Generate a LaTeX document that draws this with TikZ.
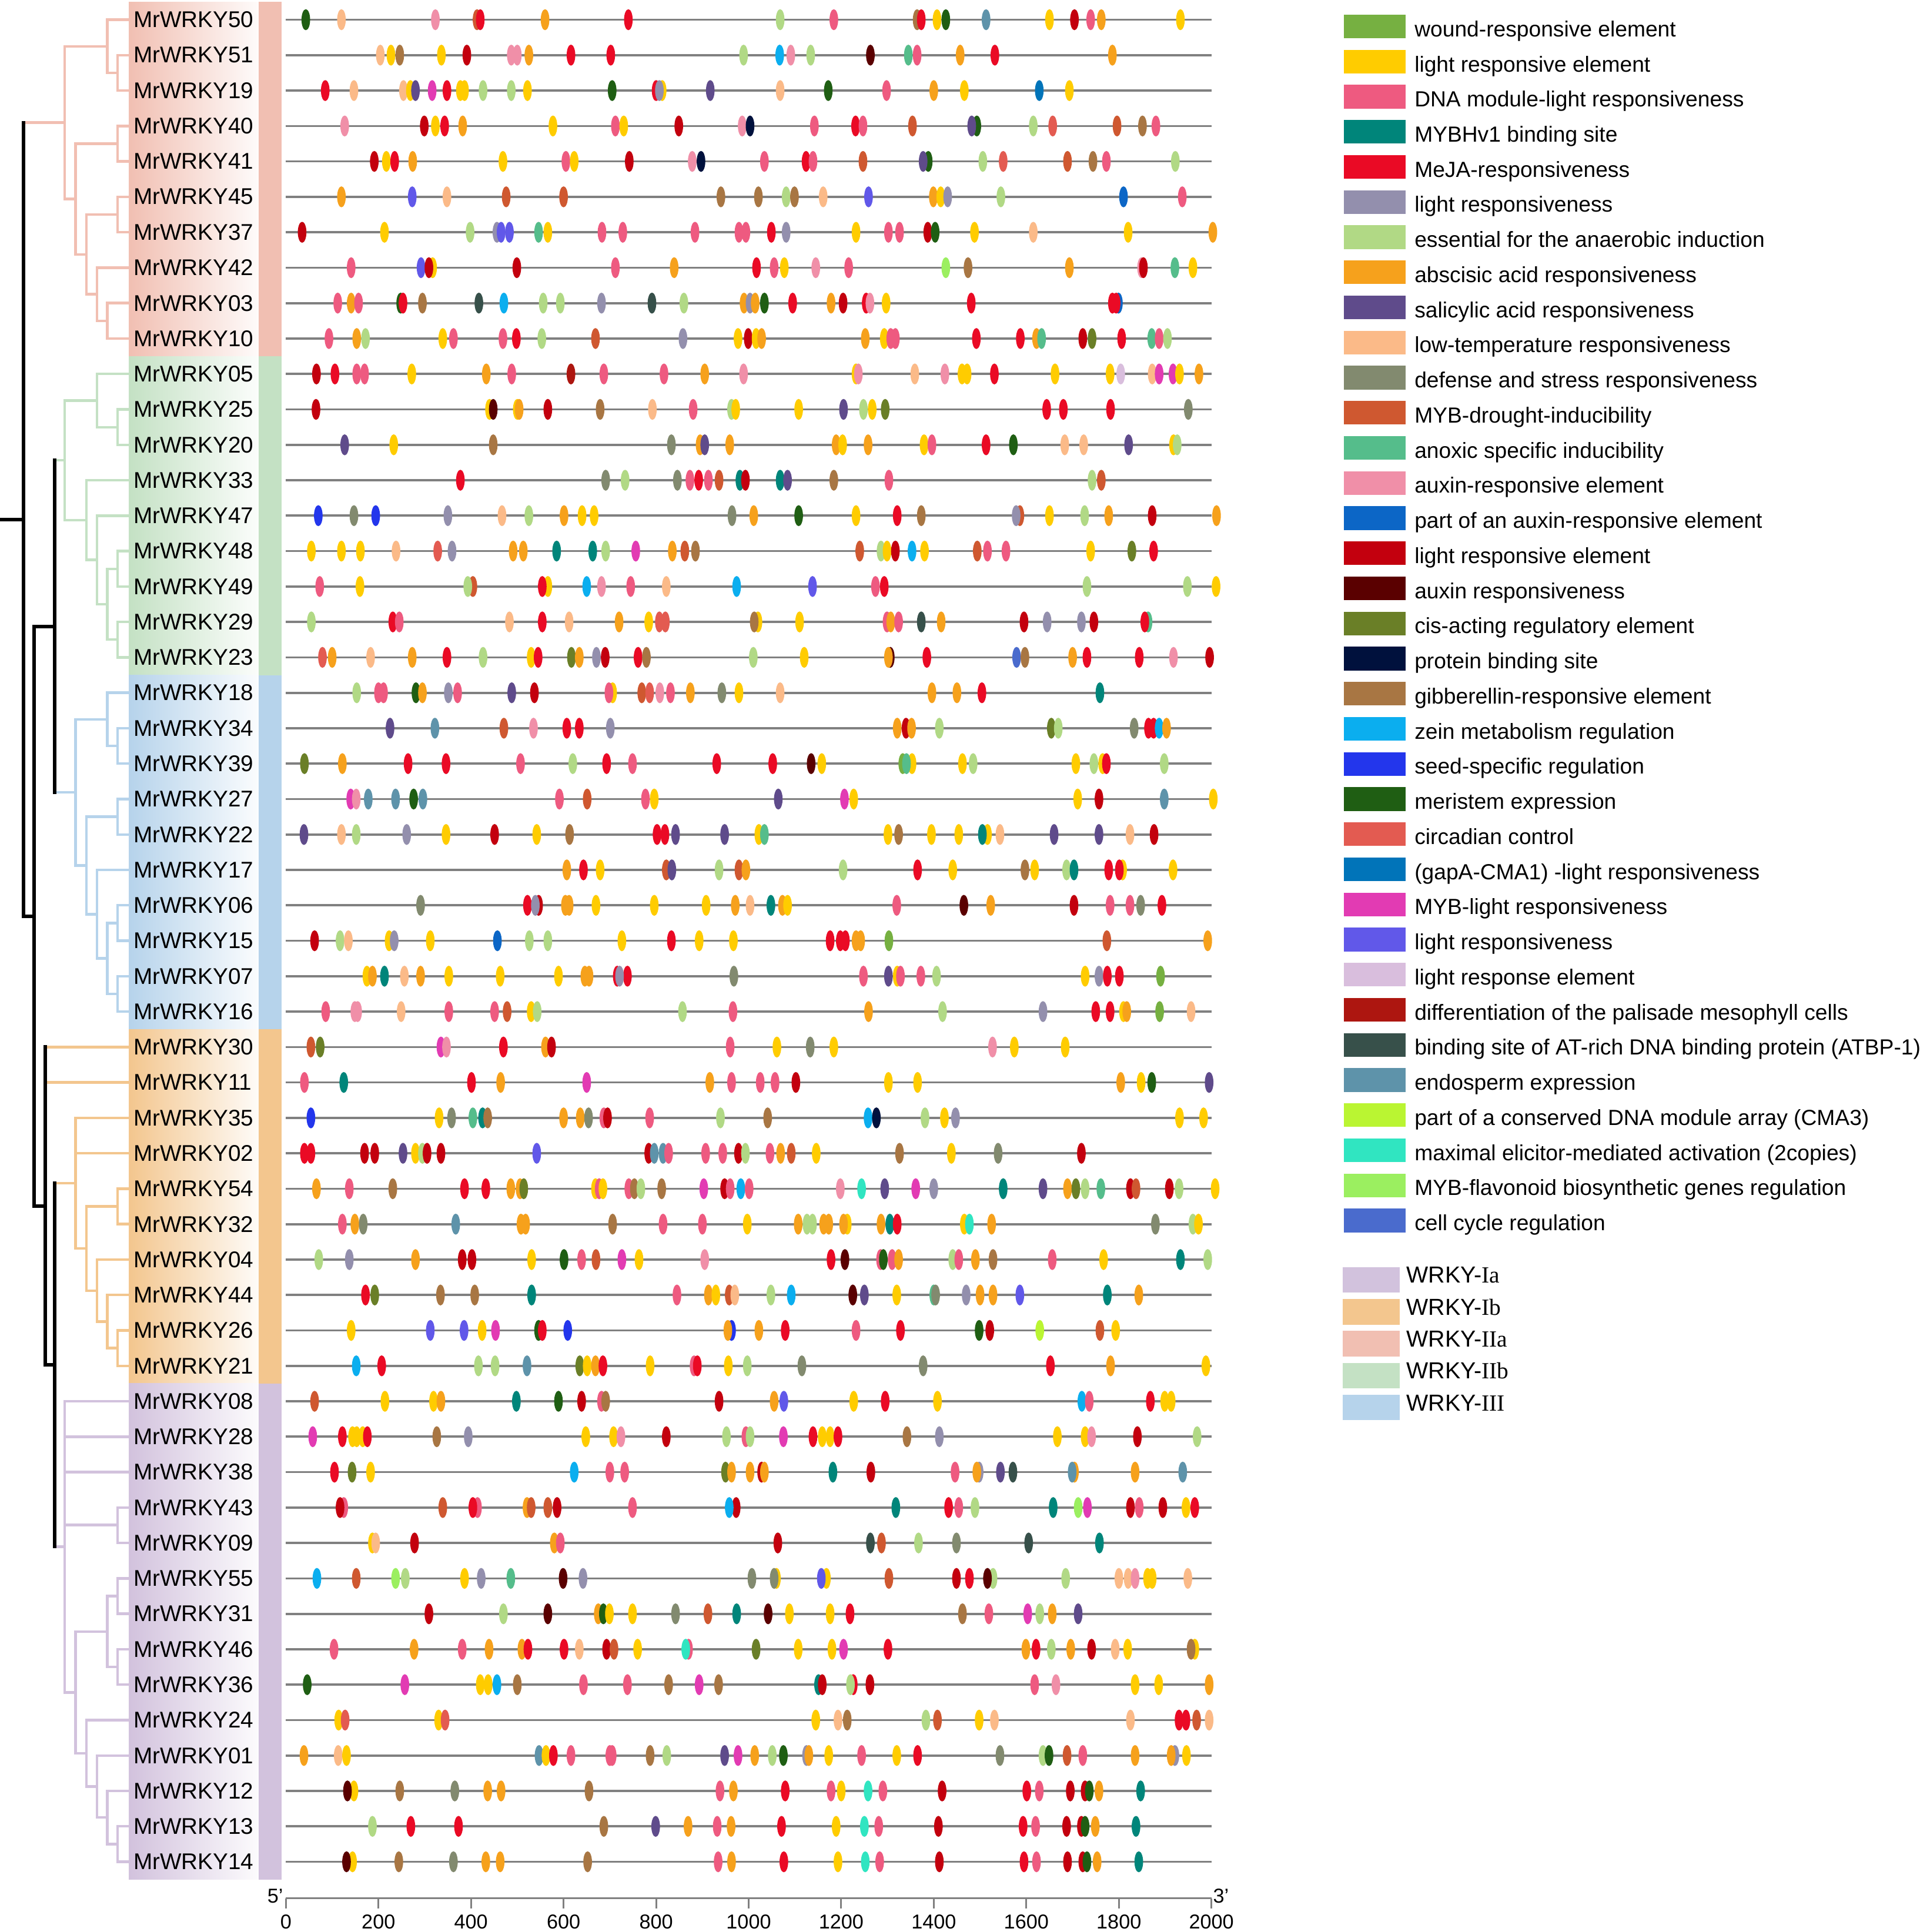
\documentclass[tikz,border=0pt]{standalone}
\usepackage{fontspec}
\setmainfont{Liberation Sans}
\newfontfamily\romanfont{Liberation Serif}
% motif colours
\definecolor{cW}{HTML}{76B041}
\definecolor{cY}{HTML}{FFCC00}
\definecolor{cP}{HTML}{EE5A80}
\definecolor{cT}{HTML}{00857A}
\definecolor{cR}{HTML}{EA0A25}
\definecolor{cG}{HTML}{938FAD}
\definecolor{cL}{HTML}{B1D985}
\definecolor{cO}{HTML}{F6A11C}
\definecolor{cS}{HTML}{5F4B8B}
\definecolor{cK}{HTML}{FBBA88}
\definecolor{cD}{HTML}{828A6F}
\definecolor{cU}{HTML}{CF5830}
\definecolor{cA}{HTML}{55BD8B}
\definecolor{cN}{HTML}{F08FA8}
\definecolor{cB}{HTML}{0C66C6}
\definecolor{cV}{HTML}{C3000E}
\definecolor{cM}{HTML}{5A0000}
\definecolor{cC}{HTML}{6A7F27}
\definecolor{cZ}{HTML}{00113D}
\definecolor{cH}{HTML}{A87643}
\definecolor{cE}{HTML}{0BAEEF}
\definecolor{cQ}{HTML}{2336EC}
\definecolor{cX}{HTML}{1F5E13}
\definecolor{cF}{HTML}{E35B51}
\definecolor{cI}{HTML}{0174B9}
\definecolor{cJ}{HTML}{E23BB3}
\definecolor{cpw}{HTML}{6158E9}
\definecolor{cli}{HTML}{D9BEDD}
\definecolor{cpa}{HTML}{AD1610}
\definecolor{cat}{HTML}{37504A}
\definecolor{cen}{HTML}{5E93AA}
\definecolor{ccm}{HTML}{BAF532}
\definecolor{ctq}{HTML}{30E5C1}
\definecolor{cfl}{HTML}{9BEF60}
\definecolor{ccc}{HTML}{4A6BCD}
% group colours
\definecolor{wIa}{HTML}{D2C2DD}
\definecolor{wIb}{HTML}{F3C68E}
\definecolor{wIIa}{HTML}{F1BFB2}
\definecolor{wIIb}{HTML}{C4E1C4}
\definecolor{wIII}{HTML}{B6D3EB}
% one row of motifs: row index, list of position/colour
\newcommand{\motifs}[2]{\foreach \p/\k in {#2} \fill[fill=c\k] ({232+0.3755*\p},{16+28.75*#1}) ellipse (3.5 and 8.5);}
\begin{document}
\begin{tikzpicture}[x=0.02cm, y=-0.02cm,
  gline/.style={draw=gray, line width=1pt},
  glabel/.style={anchor=west, inner sep=0pt, font=\fontsize{10.5}{12}\selectfont},
  tblk/.style={draw=black, line width=1.6pt, line cap=rect},
  tIIa/.style={draw=wIIa, line width=1.2pt},
  tIIb/.style={draw=wIIb, line width=1.2pt},
  tIII/.style={draw=wIII, line width=1.2pt},
  tIb/.style={draw=wIb, line width=1.2pt},
  tIa/.style={draw=wIa, line width=1.2pt},
  legtext/.style={anchor=base west, inner sep=0pt, font=\fontsize{10.1}{12}\selectfont},
  grptext/.style={anchor=base west, inner sep=0pt, font=\fontsize{10.7}{12}\selectfont},
  axlabel/.style={inner sep=0pt, font=\fontsize{9.3}{11}\selectfont},
  axline/.style={draw=gray, line width=1pt},
  axtick/.style={draw=gray, line width=0.8pt}]
\useasboundingbox (0,0) rectangle (1566,1568);

% genes: leaf points, labels, promoter lines
\foreach \i/\g in {0/50,1/51,2/19,3/40,4/41,5/45,6/37,7/42,8/03,9/10,10/05,11/25,12/20,13/33,14/47,15/48,16/49,17/29,18/23,19/18,20/34,21/39,22/27,23/22,24/17,25/06,26/15,27/07,28/16,29/30,30/11,31/35,32/02,33/54,34/32,35/04,36/44,37/26,38/21,39/08,40/28,41/38,42/43,43/09,44/55,45/31,46/46,47/36,48/24,49/01,50/12,51/13,52/14} {
  \coordinate (r\g) at (104.5,{16+28.75*\i});
  \coordinate (s\g) at (232,{16+28.75*\i});
  \coordinate (e\g) at (983,{16+28.75*\i});
}

% tree nodes
\coordinate (a1) at (95.4,59.125);
\coordinate (a2) at (87,37.56);
\coordinate (a3) at (95.4,116.625);
\coordinate (a4) at (95.4,174.125);
\coordinate (a5) at (87,260.375);
\coordinate (a6) at (78.7,238.81);
\coordinate (a7) at (70,206.47);
\coordinate (a8) at (61.2,161.55);
\coordinate (a9) at (52.5,99.55);
\coordinate (g1) at (95.4,346.875);
\coordinate (g2) at (78.7,325.19);
\coordinate (g3) at (95.4,461.625);
\coordinate (g4) at (95.4,519.125);
\coordinate (g5) at (87,490.375);
\coordinate (g6) at (78.7,454.44);
\coordinate (g7) at (70,422.09);
\coordinate (g8) at (52.5,373.64);
\coordinate (u1) at (95.4,605.375);
\coordinate (u2) at (87,583.81);
\coordinate (u3) at (95.4,662.875);
\coordinate (u4) at (95.4,749.125);
\coordinate (u5) at (95.4,806.625);
\coordinate (u6) at (87,777.875);
\coordinate (u7) at (78.7,741.94);
\coordinate (u8) at (70,702.41);
\coordinate (u9) at (61.2,643.11);
\coordinate (o1) at (95.4,979.125);
\coordinate (o2) at (95.4,1094.125);
\coordinate (o3) at (87,1072.56);
\coordinate (o4) at (78.7,1047.41);
\coordinate (o5) at (70,1013.27);
\coordinate (o6) at (61.2,960.26);
\coordinate (p1) at (95.4,1237.625);
\coordinate (p2) at (95.4,1295.375);
\coordinate (p3) at (95.4,1352.875);
\coordinate (p4) at (87,1324.125);
\coordinate (p5) at (95.4,1496.625);
\coordinate (p6) at (87,1475.06);
\coordinate (p7) at (78.7,1449.91);
\coordinate (p8) at (70,1422.95);
\coordinate (p9) at (61.2,1373.54);
\coordinate (p10) at (52.5,1255.27);
\coordinate (b1) at (19,421.56);
\coordinate (b2) at (27.8,743.57);
\coordinate (b3) at (44.5,508.38);
\coordinate (b4) at (36.6,978.76);
\coordinate (b5) at (44.5,1107.77);
\coordinate (root) at (1.6,421.56);

% tree branches
\draw[tIIa] (a1) |- (r51) (a1) |- (r19) (a2) |- (r50) (a2) |- (a1)
  (a3) |- (r40) (a3) |- (r41) (a4) |- (r45) (a4) |- (r37)
  (a5) |- (r03) (a5) |- (r10) (a6) |- (r42) (a6) |- (a5)
  (a7) |- (a4) (a7) |- (a6) (a8) |- (a3) (a8) |- (a7)
  (a9) |- (a2) (a9) |- (a8) (b1 |- a9) -- (a9);
\draw[tIIb] (g1) |- (r25) (g1) |- (r20) (g2) |- (r05) (g2) |- (g1)
  (g3) |- (r48) (g3) |- (r49) (g4) |- (r29) (g4) |- (r23)
  (g5) |- (g3) (g5) |- (g4) (g6) |- (r47) (g6) |- (g5)
  (g7) |- (r33) (g7) |- (g6) (g8) |- (g2) (g8) |- (g7) (b3 |- g8) -- (g8);
\draw[tIII] (u1) |- (r34) (u1) |- (r39) (u2) |- (r18) (u2) |- (u1)
  (u3) |- (r27) (u3) |- (r22) (u4) |- (r06) (u4) |- (r15)
  (u5) |- (r07) (u5) |- (r16) (u6) |- (u4) (u6) |- (u5)
  (u7) |- (r17) (u7) |- (u6) (u8) |- (u3) (u8) |- (u7)
  (u9) |- (u2) (u9) |- (u8) (b3 |- u9) -- (u9);
\draw[tIb] (o1) |- (r54) (o1) |- (r32) (o2) |- (r26) (o2) |- (r21)
  (o3) |- (r44) (o3) |- (o2) (o4) |- (r04) (o4) |- (o3)
  (o5) |- (o1) (o5) |- (o4) (o6) |- (r35) (o6) |- (r02) (o6) |- (o5)
  (b5 |- o6) -- (o6) (b4 |- r30) -- (r30) (b4 |- r11) -- (r11);
\draw[tIa] (p1) |- (r43) (p1) |- (r09) (p2) |- (r55) (p2) |- (r31)
  (p3) |- (r46) (p3) |- (r36) (p4) |- (p2) (p4) |- (p3)
  (p5) |- (r13) (p5) |- (r14) (p6) |- (r12) (p6) |- (p5)
  (p7) |- (r01) (p7) |- (p6) (p8) |- (r24) (p8) |- (p7)
  (p9) |- (p4) (p9) |- (p8)
  (p10) |- (r08) (p10) |- (r28) (p10) |- (r38) (p10) |- (p1) (p10) |- (p9)
  (b5 |- p10) -- (p10);
\draw[tblk] (root) -- (b1);
\draw[tblk] (b1 |- a9) -- (b1 |- b2) -- (b2);
\draw[tblk] (b2 |- b3) -- (b3) (b2 |- b3) -- (b2 |- b4) -- (b4);
\draw[tblk] (b3 |- g8) -- (b3 |- u9);
\draw[tblk] (b4 |- r30) -- (b4 |- b5) -- (b5);
\draw[tblk] (b5 |- o6) -- (b5 |- p10);

% group bands behind the labels
\foreach \a/\b/\k in {0/9/wIIa, 10/18/wIIb, 19/28/wIII, 29/38/wIb, 39/52/wIa} {
  \shade[left color=\k, right color=\k!6] (104.5,{1.625+28.75*\a}) rectangle (210,{30.375+28.75*\b});
  \fill[\k] (210,{1.625+28.75*\a}) rectangle (228.5,{30.375+28.75*\b});
}

% promoter lines and labels
\foreach \g in {50,51,19,40,41,45,37,42,03,10,05,25,20,33,47,48,49,29,23,18,34,39,27,22,17,06,15,07,16,30,11,35,02,54,32,04,44,26,21,08,28,38,43,09,55,31,46,36,24,01,12,13,14} {
  \draw[gline] (s\g) -- (e\g);
  \node[glabel] (n\g) at ([xshift=0.07cm]r\g) {MrWRKY\g};
}

% cis-elements
\motifs{0}{43/X,120/K,323/N,413/U,420/R,560/O,740/R,1068/L,1184/P,1364/H,1373/R,1407/Y,1426/X,1513/en,1650/Y,1704/V,1739/P,1762/O,1933/Y}
\motifs{1}{204/K,227/Y,246/H,336/Y,391/V,487/N,500/N,525/O,616/R,702/R,989/L,1067/E,1091/N,1134/L,1263/M,1345/A,1364/P,1457/O,1532/R,1786/O}
\motifs{2}{85/R,147/K,254/K,269/Y,280/S,316/J,348/R,377/Y,386/Y,426/L,487/L,522/Y,705/X,800/R,813/Y,807/G,917/S,1068/K,1172/X,1298/P,1400/O,1466/Y,1628/I,1693/Y}
\motifs{3}{127/N,299/V,323/Y,343/R,382/O,577/Y,712/P,730/Y,849/V,986/N,1003/Z,1142/P,1231/R,1247/P,1354/U,1493/X,1482/S,1615/L,1657/F,1796/U,1851/H,1880/P}
\motifs{4}{191/V,217/Y,235/R,274/O,469/Y,605/P,623/Y,742/V,878/N,897/Z,1034/P,1124/R,1139/P,1247/U,1388/X,1377/S,1506/L,1550/F,1689/U,1744/H,1773/P,1922/L}
\motifs{5}{120/O,273/pw,348/K,476/U,600/U,940/H,1021/H,1081/L,1099/H,1161/K,1259/pw,1399/O,1415/Y,1430/G,1545/L,1810/B,1937/P}
\motifs{6}{35/V,213/Y,398/L,456/G,465/pw,483/pw,546/A,566/Y,683/P,728/P,884/P,979/P,994/P,1049/R,1081/G,1232/Y,1302/P,1326/P,1387/V,1403/X,1488/Y,1615/K,1820/Y,2003/O}
\motifs{7}{141/P,292/pw,317/Y,309/V,499/V,712/P,839/O,1017/R,1055/P,1077/Y,1145/N,1216/P,1426/fl,1474/H,1693/O,1849/N,1853/V,1921/A,1960/Y}
\motifs{8}{112/P,141/O,157/P,248/X,253/R,295/H,417/at,471/E,556/L,593/L,682/G,791/at,860/L,990/O,1003/G,1014/O,1034/X,1095/R,1178/O,1204/V,1254/R,1262/N,1297/Y,1481/R,1786/R,1799/B,1794/R}
\motifs{9}{93/P,153/O,172/L,339/Y,362/P,469/P,498/R,553/L,669/U,858/G,977/Y,999/V,1016/Y,1028/O,1252/O,1293/Y,1307/P,1317/P,1492/R,1587/R,1622/O,1633/A,1722/V,1742/C,1806/R,1871/A,1887/P,1905/L}
\motifs{10}{66/V,106/R,153/P,170/P,272/Y,433/O,488/P,616/pa,687/P,817/P,905/O,989/N,1232/Y,1237/N,1359/K,1424/N,1461/Y,1472/Y,1531/R,1662/Y,1781/Y,1804/li,1872/K,1887/J,1917/J,1931/Y,1973/O}
\motifs{11}{65/V,440/Y,448/M,500/Y,504/O,566/V,679/H,792/K,880/P,963/L,972/Y,1108/Y,1205/S,1248/L,1267/Y,1295/C,1644/R,1680/R,1782/R,1950/D}
\motifs{12}{127/S,233/Y,448/H,833/D,895/O,905/S,959/O,1189/O,1203/Y,1258/O,1379/Y,1396/P,1513/R,1572/X,1683/K,1724/K,1821/S,1918/Y,1926/L}
\motifs{13}{377/R,691/D,733/L,846/D,873/P,892/R,913/P,936/U,981/T,993/V,1068/T,1084/S,1184/H,1303/P,1742/L,1762/U}
\motifs{14}{70/Q,147/D,194/Q,350/G,467/K,525/L,601/O,640/Y,666/Y,964/D,1011/O,1108/X,1232/Y,1321/R,1373/H,1586/U,1578/G,1650/Y,1726/L,1778/O,1872/V,2011/O}
\motifs{15}{55/Y,120/Y,161/Y,238/K,328/F,359/G,491/O,513/O,585/T,663/T,691/L,756/J,835/O,862/U,885/H,1240/U,1286/L,1299/Y,1317/V,1353/E,1380/Y,1494/U,1516/P,1556/P,1739/Y,1828/C,1875/R}
\motifs{16}{73/P,160/Y,404/U,393/L,566/Y,554/R,650/E,682/N,745/P,822/K,974/E,1138/pw,1274/P,1293/R,1731/L,1948/L,2010/Y}
\motifs{17}{55/L,231/R,245/P,483/K,554/R,612/K,720/O,784/Y,807/F,820/F,1020/Y,1012/H,1110/Y,1299/P,1307/O,1324/P,1373/at,1416/O,1595/V,1645/G,1719/G,1746/V,1863/A,1856/R}
\motifs{18}{79/F,100/O,183/K,273/O,348/R,426/L,530/Y,545/R,617/C,634/O,671/G,690/V,761/R,779/H,1010/L,1120/Y,1306/M,1302/O,1385/R,1579/cc,1597/H,1700/O,1731/R,1844/R,1918/N,1996/V}
\motifs{19}{153/L,200/P,211/P,281/X,295/O,351/G,371/P,488/S,537/V,706/Y,698/P,769/U,786/F,808/N,831/P,874/O,942/D,979/Y,1068/K,1396/O,1450/O,1504/R,1759/T}
\motifs{20}{225/S,322/en,471/U,535/N,607/R,634/R,701/G,1321/O,1340/V,1352/O,1412/L,1654/C,1669/L,1833/D,1864/R,1875/R,1887/E,1903/O}
\motifs{21}{40/C,122/O,264/R,346/R,507/P,620/L,693/R,749/P,931/R,1052/R,1135/M,1158/Y,1333/W,1353/Y,1341/A,1462/Y,1485/L,1707/Y,1746/L,1765/Y,1773/R,1898/L}
\motifs{22}{140/J,152/N,178/en,237/en,276/X,296/en,591/P,651/U,777/P,796/Y,1064/S,1207/J,1227/Y,1711/Y,1757/V,1898/en,2004/Y}
\motifs{23}{39/S,120/K,152/L,261/G,346/Y,451/V,542/Y,613/H,802/R,819/R,842/S,948/S,1022/Y,1034/A,1301/Y,1324/H,1395/Y,1454/Y,1516/Y,1505/T,1543/K,1660/S,1757/S,1824/K,1876/V}
\motifs{24}{607/O,643/R,679/Y,822/U,834/S,936/L,979/U,994/O,1204/L,1365/R,1441/Y,1597/H,1618/Y,1687/L,1703/T,1778/R,1808/Y,1801/R,1917/Y}
\motifs{25}{291/D,522/R,546/V,539/G,604/O,612/O,670/Y,796/Y,908/Y,971/O,1003/K,1048/T,1073/O,1084/Y,1320/P,1465/M,1523/O,1703/V,1781/P,1824/P,1847/D,1893/R}
\motifs{26}{62/V,117/L,135/K,223/Y,234/G,312/Y,457/B,526/L,566/L,726/Y,833/R,893/Y,967/Y,1176/R,1198/R,1209/R,1232/O,1242/O,1303/W,1774/U,1992/O}
\motifs{27}{175/Y,187/O,213/T,256/K,291/O,352/Y,463/Y,589/Y,646/O,655/O,716/R,738/R,721/G,968/D,1248/P,1302/S,1321/Y,1328/P,1372/P,1406/L,1727/Y,1757/G,1775/R,1801/R,1890/W}
\motifs{28}{86/P,149/N,155/N,249/K,352/P,451/P,478/U,530/Y,543/L,857/L,966/P,1259/O,1419/L,1636/G,1750/R,1781/R,1810/Y,1817/O,1888/W,1956/K}
\motifs{29}{54/U,74/C,335/J,347/N,470/R,561/O,574/V,960/P,1061/Y,1133/D,1184/Y,1527/N,1574/Y,1684/Y}
\motifs{30}{40/P,125/T,401/R,464/O,650/J,916/O,963/P,1025/P,1057/P,1102/V,1302/Y,1365/Y,1804/O,1848/Y,1871/X,1995/S}
\motifs{31}{54/Q,331/Y,358/D,404/A,425/T,436/H,600/O,636/O,654/D,687/P,695/V,786/P,939/L,1041/H,1258/E,1276/Z,1381/L,1423/Y,1447/G,1931/Y,1983/Y}
\motifs{32}{40/R,54/R,170/V,192/V,253/S,280/Y,295/L,305/V,335/V,542/pw,784/V,796/en,815/en,827/P,907/P,944/P,978/V,993/L,1046/P,1069/O,1092/U,1146/Y,1326/H,1438/Y,1539/D,1719/V}
\motifs{33}{66/O,137/P,231/H,386/R,432/R,486/O,506/O,514/C,669/Y,677/P,685/Y,741/P,753/H,767/L,812/H,903/J,948/V,960/P,983/E,1001/P,1198/N,1244/tq,1294/S,1361/J,1400/G,1550/T,1636/S,1689/O,1707/C,1727/L,1761/A,1825/V,1837/U,1909/V,1930/L,2008/Y}
\motifs{34}{122/P,149/O,167/D,367/en,508/O,518/O,706/H,815/P,900/P,997/Y,1107/O,1126/L,1138/L,1162/O,1173/O,1213/Y,1205/O,1286/O,1305/T,1321/R,1466/Y,1477/tq,1525/O,1879/D,1960/L,1972/Y}
\motifs{35}{71/L,137/G,280/O,381/V,402/V,531/Y,601/X,639/P,670/U,726/J,763/Y,905/N,1178/R,1208/M,1285/P,1291/X,1310/P,1324/O,1441/L,1454/P,1490/O,1528/H,1656/P,1767/Y,1933/T,1992/L}
\motifs{36}{172/R,192/C,334/H,408/H,531/T,845/P,913/O,929/Y,958/U,970/K,1048/L,1092/E,1225/M,1250/S,1320/Y,1400/A,1404/D,1470/G,1500/O,1528/O,1586/pw,1775/T,1843/O}
\motifs{37}{141/Y,312/pw,385/pw,424/Y,453/J,546/X,554/R,609/Q,963/Q,955/O,1022/O,1079/R,1232/P,1328/R,1498/X,1521/V,1629/cm,1759/U,1793/Y}
\motifs{38}{152/E,207/R,416/L,452/L,521/en,635/C,651/Y,669/O,685/R,787/Y,882/P,889/R,956/Y,997/L,1115/D,1377/D,1652/R,1782/O,1988/Y}
\motifs{39}{62/U,214/Y,319/Y,335/O,498/T,589/X,639/V,682/P,691/H,936/V,1055/O,1076/pw,1227/Y,1295/R,1408/Y,1720/E,1736/P,1868/R,1899/Y,1913/Y}
\motifs{40}{58/J,122/R,144/Y,153/Y,166/Y,176/R,326/H,394/G,648/Y,708/Y,724/N,822/V,952/L,994/P,1003/L,1075/J,1139/R,1159/Y,1176/Y,1193/R,1342/H,1412/G,1667/Y,1727/Y,1741/N,1840/V,1969/L}
\motifs{41}{105/R,143/C,183/Y,623/E,700/P,732/P,950/C,963/O,1003/O,1028/V,1034/O,1182/T,1264/V,1446/P,1498/G,1493/O,1544/S,1571/at,1704/O,1699/en,1835/O,1938/en}
\motifs{42}{125/P,117/V,339/U,414/P,404/R,521/O,530/U,566/U,586/V,749/P,973/V,958/E,1318/T,1432/R,1454/P,1489/L,1658/T,1712/fl,1732/J,1825/V,1844/P,1895/V,1945/Y,1964/R}
\motifs{43}{187/Y,194/K,278/V,580/O,593/P,1063/V,1263/at,1287/U,1367/L,1449/D,1605/at,1758/T}
\motifs{44}{67/E,152/U,237/fl,258/L,386/Y,422/G,486/A,599/M,642/G,1007/D,1060/Y,1055/D,1168/Y,1157/pw,1303/U,1449/V,1477/R,1528/L,1516/M,1685/L,1800/K,1820/K,1835/N,1862/Y,1872/Y,1949/K}
\motifs{45}{309/V,470/L,566/M,675/O,686/X,699/Y,749/Y,842/D,912/U,974/T,1042/M,1088/Y,1176/Y,1219/R,1462/H,1519/P,1603/J,1629/L,1656/O,1712/S}
\motifs{46}{104/P,277/O,381/P,439/O,510/O,523/R,601/R,634/K,693/V,709/U,760/Y,870/P,864/tq,1016/C,1107/Y,1180/Y,1205/J,1301/R,1599/O,1621/R,1654/L,1696/O,1741/V,1792/K,1819/Y,1964/Y,1956/H}
\motifs{47}{46/X,257/J,420/Y,437/Y,456/E,500/H,643/P,738/P,827/H,893/J,935/H,1151/T,1159/V,1226/R,1220/L,1262/V,1618/P,1664/N,1835/Y,1886/Y,1995/O}
\motifs{48}{114/Y,128/F,330/Y,344/F,1145/Y,1193/K,1213/H,1383/L,1408/U,1498/Y,1531/K,1825/K,1930/R,1945/R,1968/U,1995/K}
\motifs{49}{39/O,113/K,131/Y,547/en,562/Y,578/R,616/P,700/P,705/P,787/H,823/L,948/S,977/J,1013/O,1051/L,1075/X,1125/G,1130/O,1173/Y,1244/P,1320/Y,1365/R,1543/D,1636/L,1649/X,1688/U,1722/P,1835/O,1921/G,1913/O,1946/Y}
\motifs{50}{147/Y,133/M,246/H,365/D,436/O,465/O,655/H,938/P,967/O,1079/R,1178/P,1200/Y,1258/tq,1290/P,1418/V,1601/R,1628/P,1695/V,1727/V,1757/O,1736/X,1847/T}
\motifs{51}{187/L,270/R,373/R,687/H,799/S,869/O,932/P,962/O,1071/R,1189/Y,1250/tq,1281/P,1410/V,1593/R,1620/P,1687/V,1719/V,1749/O,1727/X,1837/T}
\motifs{52}{144/Y,131/M,244/H,362/D,432/O,463/O,652/H,934/P,963/O,1076/R,1193/Y,1252/tq,1283/P,1412/V,1595/R,1622/P,1689/V,1722/V,1753/O,1731/X,1843/T}

% scale bar
\coordinate (ax0) at (232,1540.6);
\coordinate (ax1) at (983,1540.6);
\draw[axline] (ax0) -- (ax1);
\foreach \v in {0,200,...,2000} {
  \coordinate (v\v) at ({232+0.3755*\v},1540.6);
  \draw[axtick] (v\v) -- ++(0,8.5);
  \node[axlabel] (t\v) at ({232+0.3755*\v},1559.5) {\v};
}
\node[axlabel, anchor=base east] (five) at (230,1544.2) {5'};
\node[axlabel, anchor=base west] (three) at (984,1544.2) {3'};

% legend of elements
\foreach \k/\t [count=\n from 0] in {W/wound-responsive element, Y/light responsive element, P/DNA module-light responsiveness, T/MYBHv1 binding site, R/MeJA-responsiveness, G/light responsiveness, L/essential for the anaerobic induction, O/abscisic acid responsiveness, S/salicylic acid responsiveness, K/low-temperature responsiveness, D/defense and stress responsiveness, U/MYB-drought-inducibility, A/anoxic specific inducibility, N/auxin-responsive element, B/part of an auxin-responsive element, V/light responsive element, M/auxin responsiveness, C/cis-acting regulatory element, Z/protein binding site, H/gibberellin-responsive element, E/zein metabolism regulation, Q/seed-specific regulation, X/meristem expression, F/circadian control, I/(gapA-CMA1) -light responsiveness, J/MYB-light responsiveness, pw/light responsiveness, li/light response element, pa/differentiation of the palisade mesophyll cells, at/binding site of AT-rich DNA binding protein (ATBP-1), en/endosperm expression, cm/part of a conserved DNA module array (CMA3), tq/maximal elicitor-mediated activation (2copies), fl/MYB-flavonoid biosynthetic genes regulation, cc/cell cycle regulation} {
  \fill[fill=c\k] (1090.6,{21.5+28.5*\n-9.6}) rectangle (1140.7,{21.5+28.5*\n+9.6});
  \node[legtext] (k\n) at (1147.5,{21.5+28.5*\n+8.2}) {\t};
}

% legend of groups
\foreach \k/\t [count=\n from 0] in {wIa/Ia, wIb/Ib, wIIa/IIa, wIIb/IIb, wIII/III} {
  \fill[\k] (1089.7,{1038.7+25.9*\n-10.4}) rectangle (1136,{1038.7+25.9*\n+10.4});
  \node[grptext] (w\n) at (1141,{1038.7+25.9*\n+2.6}) {WRKY-{\romanfont\t}};
}
\end{tikzpicture}
\end{document}
